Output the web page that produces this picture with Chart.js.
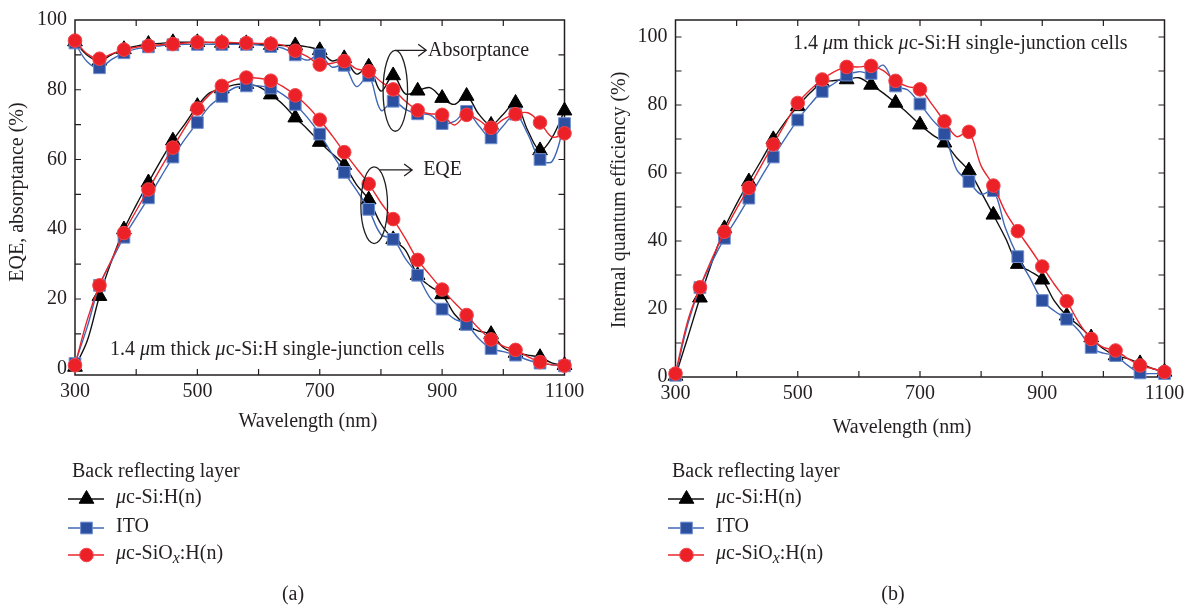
<!DOCTYPE html>
<html lang="en">
<head>
<meta charset="UTF-8">
<title>EQE, absorptance and IQE</title>
<script src="https://cdn.jsdelivr.net/npm/chart.js"></script>
<style>
  body { margin: 0; background: #fff; }
  #wrap { position: relative; width: 1193px; height: 609px; }
  #boxA { position: absolute; left: 0; top: 0; width: 600px; height: 609px; }
  #boxB { position: absolute; left: 600px; top: 0; width: 593px; height: 609px; }
</style>
</head>
<body>
<div id="wrap">
  <div id="boxA"><canvas id="chartA"></canvas></div>
  <div id="boxB"><canvas id="chartB"></canvas></div>
</div>

<script>
// wavelength grid (nm); markers sit on every second point (300, 340, ... 1100)
const wavelengths = [300, 320, 340, 360, 380, 400, 420, 440, 460, 480, 500, 520, 540, 560, 580, 600, 620, 640, 660, 680,
                     700, 720, 740, 760, 780, 800, 820, 840, 860, 880, 900, 920, 940, 960, 980, 1000, 1020, 1040, 1060, 1080, 1100];

// (a) EQE
const eqeSi   = [0.5, 8, 20.8, 31, 39.9, 46.9, 53.4, 59.6, 65.4, 70.3, 75.3, 79.1, 80.3, 81.4, 81.6, 80.9, 78.6, 75.8, 72, 68.7,
                 65, 61.7, 58.4, 52.8, 48.5, 41.5, 37.1, 34, 26.8, 23.7, 21.3, 15.7, 12.4, 10.8, 9.9, 6.1, 4.5, 3.9, 3.3, 1.6, 1];
const eqeIto  = [1.5, 12, 23.9, 31, 37.7, 43.4, 49, 54.9, 60.7, 65.9, 70.6, 75.3, 78.1, 80.5, 81.1, 81.1, 80.5, 78.6, 75.8, 72,
                 67.3, 61.7, 56.3, 51.2, 45.7, 38.5, 37.1, 31.6, 26.8, 20.4, 17.1, 14.3, 12.7, 8.6, 5.8, 4.9, 3.9, 2.5, 1.6, 1.1, 0.8];
const eqeSiOx = [1, 14, 23.9, 31.3, 38.9, 45.3, 51.4, 57.5, 63.4, 69.2, 74.6, 78.6, 81.1, 82.8, 83.5, 83.3, 82.6, 80.9, 78.4, 75.3,
                 71.4, 66.9, 62.1, 57.5, 53, 47.6, 42.9, 37.3, 31.2, 26.9, 22.7, 19, 15.4, 11.5, 8.4, 6.5, 5.4, 3.5, 1.9, 1.1, 0.9];

// (a) absorptance
const absSi   = [93.8, 89.9, 88.3, 90.1, 91.6, 92.5, 93.1, 93.3, 93.6, 93.6, 93.6, 93.5, 93.4, 93.3, 93.3, 93.1, 92.8, 92.7, 92.7, 92.3,
                 91.3, 88.3, 89, 84.5, 86.6, 79.6, 84.1, 78.8, 79.7, 80.6, 77.6, 75.8, 78.2, 73, 69.9, 73, 76.2, 68.3, 62.6, 66.4, 74];
const absIto  = [93.4, 88, 86.3, 88.7, 90.6, 91.7, 92.3, 92.6, 92.9, 93, 93, 93, 93, 93, 93, 92.8, 92.4, 91.9, 90, 88.5,
                 90, 86.5, 87, 80.9, 84, 74.1, 76.7, 74.4, 73.1, 72.8, 70.3, 70.9, 73.8, 69.7, 66.2, 69.7, 73, 67.3, 60, 59.5, 70.3];
const absSiOx = [94.1, 90.3, 88.9, 90.3, 91.5, 92.2, 92.6, 92.9, 93.1, 93.4, 93.6, 93.6, 93.6, 93.5, 93.4, 93.3, 93.2, 92.8, 91.2, 89.5,
                 87.2, 87.6, 88.2, 86, 85.3, 82.3, 80.1, 76.7, 74.1, 73.1, 72.8, 69.9, 72.8, 71.3, 69.1, 71.5, 73, 73.4, 70.6, 66.4, 67.5];

// (b) internal quantum efficiency
const iqeSi   = [0.3, 11.6, 23.3, 34, 43.7, 50.9, 57.5, 63.6, 69.9, 75.2, 79.6, 83.5, 86.6, 87.2, 87.5, 88, 85.9, 83.5, 80.6, 77.6,
                 74.2, 71.3, 68.9, 64.5, 60.7, 54.4, 47.7, 40.8, 33.2, 31.1, 28.6, 22.3, 18, 15.1, 11.6, 8.3, 6.3, 5.4, 4, 2.5, 1.5];
const iqeIto  = [0.5, 15.5, 26.3, 34, 40.8, 46.6, 52.6, 58.7, 64.7, 70.3, 75.6, 80.1, 84, 86.4, 88.8, 89.8, 89.3, 91.7, 85.6, 84.4,
                 80.3, 75.7, 71.5, 61, 57.5, 53.7, 54.8, 43.7, 35.4, 29.1, 22.5, 19.4, 17, 13.6, 8.7, 7, 6.3, 3.4, 1.2, 1, 1];
const iqeSiOx = [1, 16.5, 26.4, 34.9, 42.7, 49.5, 55.6, 62.1, 68.4, 74.7, 80.6, 84.4, 87.5, 89.8, 91.2, 91.2, 91.5, 90.1, 87.1, 85.4,
                 84.6, 80.1, 75.2, 70.7, 72.1, 62.1, 56.3, 48.5, 42.9, 37.8, 32.5, 27.2, 22.3, 16, 11.2, 8.7, 7.8, 5.4, 3.4, 2.5, 1.5];

const xTicks = [300, 400, 500, 600, 700, 800, 900, 1000, 1100];
const xLabels = [300, 500, 700, 900, 1100];
const yTicks = [0, 10, 20, 30, 40, 50, 60, 70, 80, 90, 100];
const yLabels = [0, 20, 40, 60, 80, 100];

const SERIF = '"Liberation Serif", "DejaVu Serif", serif';
const INK = '#231f20';

Chart.defaults.font.family = SERIF;
Chart.defaults.font.size = 20;
Chart.defaults.color = INK;

const styles = {
  si:   { line: '#111111', fill: '#000000', edge: '#000000', shape: 'triangle', r: 8.5, order: 3 },
  ito:  { line: '#3f67b6', fill: '#2d4f9f', edge: '#6f8fcf', shape: 'rect',     r: 8.3, order: 2 },
  siox: { line: '#e8262d', fill: '#ec2027', edge: '#f0484e', shape: 'circle',   r: 6.8, order: 1 }
};

function series(label, values, st) {
  return {
    label: label,
    data: wavelengths.map((w, i) => ({ x: w, y: values[i] })),
    borderColor: st.line,
    borderWidth: 1.4,
    backgroundColor: st.fill,
    pointBackgroundColor: st.fill,
    pointBorderColor: st.edge,
    pointBorderWidth: 1,
    pointStyle: st.shape,
    pointRadius: ctx => (ctx.dataIndex % 2 === 0 ? st.r : 0),
    pointHoverRadius: ctx => (ctx.dataIndex % 2 === 0 ? st.r : 0),
    tension: 0.35,
    clip: false,
    order: st.order
  };
}

// text with italic / subscript parts
function richText(ctx, x, y, parts, size) {
  ctx.textBaseline = 'middle';
  ctx.textAlign = 'left';
  parts.forEach(p => {
    const s = p.sub ? size * 0.8 : size;
    ctx.font = (p.it ? 'italic ' : '') + s + 'px ' + SERIF;
    ctx.fillText(p.t, x, y + (p.sub ? size * 0.22 : 0));
    x += ctx.measureText(p.t).width;
  });
}

const labelSi   = [{ t: 'μ', it: true }, { t: 'c-Si:H(n)' }];
const labelIto  = [{ t: 'ITO' }];
const labelSiOx = [{ t: 'μ', it: true }, { t: 'c-SiO' }, { t: 'x', it: true, sub: true }, { t: ':H(n)' }];
const cellNote  = [{ t: '1.4 ' }, { t: 'μ', it: true }, { t: 'm thick ' }, { t: 'μ', it: true }, { t: 'c-Si:H single-junction cells' }];

// box round the plot with inward ticks on all four sides
const frame = {
  id: 'frame',
  beforeDatasetsDraw(chart) {
    const { ctx, chartArea: a, scales: { x, y } } = chart;
    ctx.save();
    ctx.strokeStyle = INK;
    ctx.lineWidth = 1.5;
    ctx.strokeRect(a.left, a.top, a.right - a.left, a.bottom - a.top);
    ctx.lineWidth = 1.2;
    ctx.beginPath();
    x.ticks.forEach(t => {
      const px = x.getPixelForValue(t.value);
      if (px <= a.left + 1 || px >= a.right - 1) return;
      ctx.moveTo(px, a.bottom); ctx.lineTo(px, a.bottom - 6);
      ctx.moveTo(px, a.top); ctx.lineTo(px, a.top + 6);
    });
    y.ticks.forEach(t => {
      const py = y.getPixelForValue(t.value);
      if (py <= a.top + 1 || py >= a.bottom - 1) return;
      ctx.moveTo(a.left, py); ctx.lineTo(a.left + 6, py);
      ctx.moveTo(a.right, py); ctx.lineTo(a.right - 6, py);
    });
    ctx.stroke();
    ctx.restore();
  }
};

// axis titles, legend block and panel letter
function decorations(opt) {
  return {
    id: 'decor',
    afterDraw(chart) {
      const ctx = chart.ctx;
      ctx.save();
      ctx.fillStyle = INK;
      ctx.font = '20px ' + SERIF;
      ctx.textAlign = 'center';
      ctx.textBaseline = 'middle';
      ctx.fillText('Wavelength (nm)', opt.xTitle[0], opt.xTitle[1]);
      ctx.save();
      ctx.translate(opt.yTitle[0], opt.yTitle[1]);
      ctx.rotate(-Math.PI / 2);
      ctx.fillText(opt.yText, 0, 0);
      ctx.restore();

      ctx.fillText(opt.letter, 293, 595);

      ctx.textAlign = 'left';
      ctx.fillText('Back reflecting layer', 72, 472);
      const entries = [[styles.si, labelSi, 499], [styles.ito, labelIto, 528], [styles.siox, labelSiOx, 555]];
      entries.forEach(([st, lab, yy]) => {
        ctx.strokeStyle = st.line;
        ctx.lineWidth = 1.5;
        ctx.beginPath(); ctx.moveTo(68, yy); ctx.lineTo(104, yy); ctx.stroke();
        ctx.fillStyle = st.fill;
        ctx.strokeStyle = st.edge;
        ctx.lineWidth = 1;
        Chart.helpers.drawPoint(ctx, { pointStyle: st.shape, radius: st.r, rotation: 0, borderWidth: 1 }, 86.5, yy);
        ctx.fillStyle = INK;
        richText(ctx, 116, yy - 1, lab, 20);
      });

      ctx.fillStyle = INK;
      richText(ctx, opt.note[0], opt.note[1], cellNote, 20);
      ctx.restore();
    }
  };
}

// ellipses and arrows pointing at the curve families in (a)
function arrowRight(ctx, x1, y1, x2, y2) {
  ctx.beginPath();
  ctx.moveTo(x1, y1); ctx.lineTo(x2, y2);
  ctx.moveTo(x2 - 8, y2 - 6); ctx.lineTo(x2, y2); ctx.lineTo(x2 - 8, y2 + 6);
  ctx.stroke();
}
const callouts = [
  // centre nm, centre %, half width nm, half height %, arrow end nm, text
  { cx: 823.5, cy: 79.7, rx: 20, ry: 11.6, ay: 91.3, ax0: 823.5, ax1: 874, tx: 877, text: 'Absorptance' },
  { cx: 789, cy: 46.9, rx: 21.8, ry: 11, ay: 57, ax0: 798, ax1: 851, tx: 869, text: 'EQE' }
];
const calloutPlugin = {
  id: 'callouts',
  afterDatasetsDraw(chart) {
    const { ctx, scales: { x, y } } = chart;
    ctx.save();
    ctx.strokeStyle = INK;
    ctx.fillStyle = INK;
    ctx.lineWidth = 1.3;
    callouts.forEach(c => {
      const px = x.getPixelForValue(c.cx), py = y.getPixelForValue(c.cy);
      const rx = x.getPixelForValue(c.cx + c.rx) - px;
      const ry = py - y.getPixelForValue(c.cy + c.ry);
      ctx.beginPath(); ctx.ellipse(px, py, rx, ry, 0, 0, Math.PI * 2); ctx.stroke();
      arrowRight(ctx, x.getPixelForValue(c.ax0), y.getPixelForValue(c.ay), x.getPixelForValue(c.ax1), y.getPixelForValue(c.ay));
      ctx.font = '20px ' + SERIF;
      ctx.textAlign = 'left';
      ctx.textBaseline = 'middle';
      ctx.fillText(c.text, x.getPixelForValue(c.tx), y.getPixelForValue(c.ay));
    });
    ctx.restore();
  }
};

function scalesFor(yMin, yMax, yAxisWidth) {
  return {
    x: {
      type: 'linear', min: 300, max: 1100,
      afterBuildTicks: s => { s.ticks = xTicks.map(v => ({ value: v })); },
      afterFit: s => { s.height = 40; },
      grid: { display: false, drawTicks: false },
      border: { display: false },
      ticks: { padding: 5, autoSkip: false, maxRotation: 0,
               callback: v => (xLabels.includes(v) ? String(v) : '') }
    },
    y: {
      type: 'linear', min: yMin, max: yMax,
      afterBuildTicks: s => { s.ticks = yTicks.map(v => ({ value: v })); },
      afterFit: s => { s.width = yAxisWidth; },
      grid: { display: false, drawTicks: false },
      border: { display: false },
      ticks: { padding: 8, autoSkip: false,
               callback: v => (yLabels.includes(v) ? String(v) : '') }
    }
  };
}

const baseOptions = {
  responsive: true,
  maintainAspectRatio: false,
  animation: false,
  events: [],
  plugins: { legend: { display: false }, tooltip: { enabled: false } }
};

new Chart(document.getElementById('chartA'), {
  type: 'line',
  data: {
    datasets: [
      series('EQE μc-Si:H(n)', eqeSi, styles.si),
      series('EQE ITO', eqeIto, styles.ito),
      series('EQE μc-SiOx:H(n)', eqeSiOx, styles.siox),
      series('Absorptance μc-Si:H(n)', absSi, styles.si),
      series('Absorptance ITO', absIto, styles.ito),
      series('Absorptance μc-SiOx:H(n)', absSiOx, styles.siox)
    ]
  },
  options: Object.assign({}, baseOptions, {
    layout: { padding: { left: 0, top: 14, right: 35.5, bottom: 194 } },
    scales: scalesFor(-1.8, 100, 75)
  }),
  plugins: [frame, calloutPlugin,
            decorations({ xTitle: [308, 422], yTitle: [18, 192], yText: 'EQE, absorptance (%)',
                          letter: '(a)', note: [110, 350] })]
});

new Chart(document.getElementById('chartB'), {
  type: 'line',
  data: {
    datasets: [
      series('μc-Si:H(n)', iqeSi, styles.si),
      series('ITO', iqeIto, styles.ito),
      series('μc-SiOx:H(n)', iqeSiOx, styles.siox)
    ]
  },
  options: Object.assign({}, baseOptions, {
    layout: { padding: { left: 0, top: 16, right: 28.5, bottom: 192 } },
    scales: scalesFor(0, 105, 75.5)
  }),
  plugins: [frame,
            decorations({ xTitle: [302, 428], yTitle: [20, 200], yText: 'Internal quantum efficiency (%)',
                          letter: '(b)', note: [193, 44] })]
});
</script>
</body>
</html>
